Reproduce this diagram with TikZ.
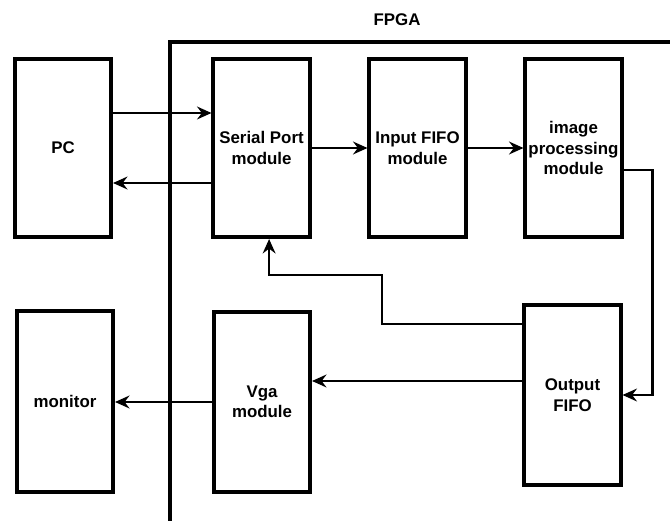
\documentclass[tikz,border=0pt]{standalone}
\usepackage{fontspec}
\setmainfont{Liberation Sans}
\usetikzlibrary{arrows.meta,positioning}
\tikzset{
  block/.style={draw=black,line width=0.1cm,minimum width=2.4cm,minimum height=4.45cm,align=center,inner sep=1pt,font=\bfseries\fontsize{12}{14.5}\selectfont},
  lowblock/.style={block,minimum height=4.5cm},
  arrow/.style={-{Stealth[length=3.6mm,width=3.2mm,inset=1.2mm]},line width=0.06cm},
  frame/.style={draw=black,line width=0.1cm}
}
\begin{document}
\begin{tikzpicture}[x=0.025cm,y=0.025cm]
  \useasboundingbox (0,0) rectangle (670,520);
  \clip (0,0) rectangle (670,520);
  \fill[white] (0,0) rectangle (670,520);

  % FPGA frame, cut off at the right and bottom
  \draw[frame] (170,-20) rectangle (700,478);
  \node[font=\bfseries\fontsize{12}{14.5}\selectfont] (fpga) at (397,500) {FPGA};

  % upper row
  \node[block] (pc) at (63,372) {PC};
  \node[block] (serial) at (261.5,372) {Serial Port\\module};
  \node[block] (infifo) at (417.5,372) {Input FIFO\\module};
  \node[block] (imgproc) at (573.5,372) {image\\processing\\module};

  % lower row
  \node[lowblock] (monitor) at (65,118.5) {monitor};
  \node[lowblock] (vga) at (262,118) {Vga\\module};
  \node[lowblock] (outfifo) at (572.5,125) {Output\\FIFO};

  \draw[arrow] ([yshift=0.875cm]pc.east) coordinate (p1) -- (p1 -| serial.west);
  \draw[arrow] ([yshift=-0.875cm]serial.west) coordinate (s1) -- (s1 -| pc.east);
  \draw[arrow] (serial) -- (infifo);
  \draw[arrow] (infifo) -- (imgproc);
  \draw[arrow] ([yshift=-0.55cm]imgproc.east) -- ++(0.725cm,0) |- (outfifo.east);
  \draw[arrow] ([yshift=0.35cm]outfifo.west) coordinate (o1) -- (o1 -| vga.east);
  \draw[arrow] ([yshift=1.775cm]outfifo.west) -| (382,245) -| ([xshift=0.19cm]serial.south);
  \draw[arrow] (vga.west) -- (vga.west -| monitor.east);
\end{tikzpicture}
\end{document}
